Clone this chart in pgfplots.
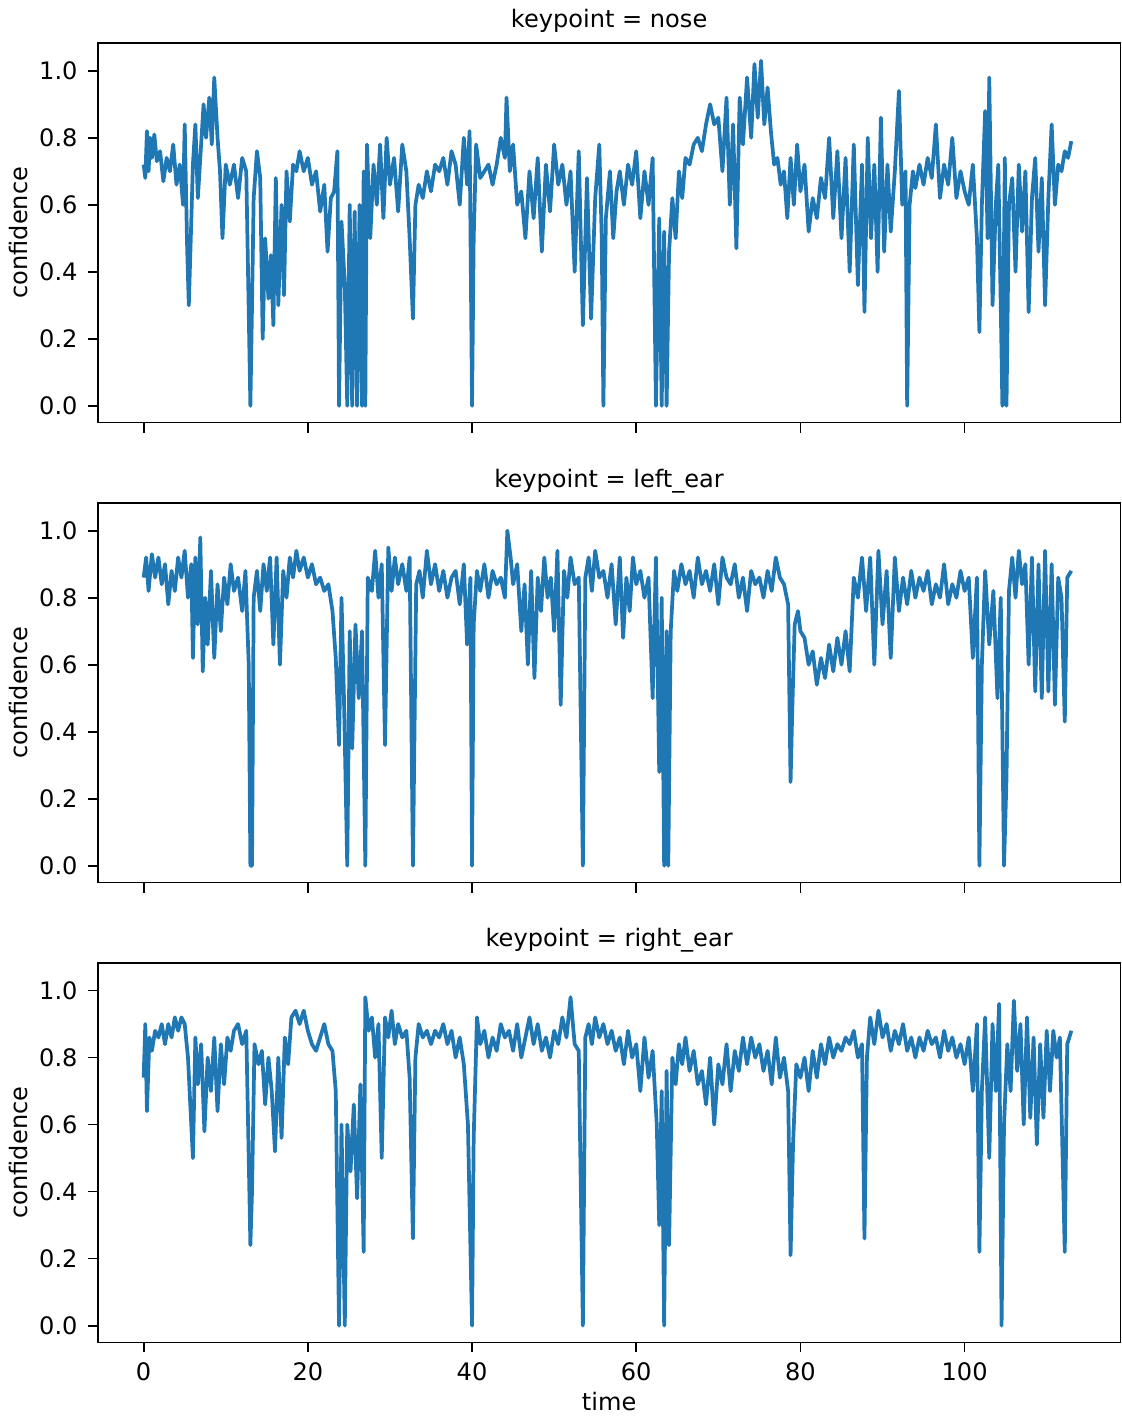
\documentclass[border=0pt]{standalone}
\usepackage{fontspec}
\setmainfont{DejaVu Sans}
\usepackage{pgfplots}
\pgfplotsset{compat=1.18}
\usepgfplotslibrary{groupplots}
\definecolor{mpl}{HTML}{1F77B4}
\begin{document}
\begin{tikzpicture}[font=\fontsize{8.4}{10}\selectfont]
\begin{groupplot}[group style={group size=1 by 3, vertical sep=28pt, x descriptions at=edge bottom},
 width=357pt, height=132.5pt, scale only axis,
 xmin=-5.6, xmax=119, ymin=-0.05, ymax=1.083,
 xtick={0,20,40,60,80,100}, ytick={0,0.2,0.4,0.6,0.8,1.0},
 yticklabel style={/pgf/number format/.cd,fixed,fixed zerofill,precision=1},
 /pgf/number format/assume math mode=true,
 ylabel={confidence}, ylabel style={yshift=-3pt}, xlabel style={yshift=3pt},
 tick align=outside, tick pos=left,
 axis line style={line width=0.6pt}, major tick style={line width=0.6pt, black},
 major tick length=3.5pt,
 cycle list={{mpl, no markers}},
 every axis plot post/.append style={line width=1.3pt, line join=round},
 title style={yshift=-6pt}]
\nextgroupplot[title={keypoint = nose}]
\addplot coordinates {(0,0.72)(0.2,0.68)(0.4,0.82)(0.6,0.70)(0.8,0.80)(1.0,0.74)(1.3,0.81)(1.6,0.73)(2.0,0.76)(2.4,0.67)(2.8,0.74)(3.2,0.70)(3.6,0.78)(4.0,0.66)(4.4,0.72)(4.8,0.60)(5.0,0.84)(5.3,0.47)(5.5,0.30)(5.8,0.55)(6.0,0.72)(6.3,0.84)(6.6,0.62)(7.0,0.78)(7.3,0.90)(7.6,0.80)(8.0,0.92)(8.3,0.78)(8.6,0.98)(9.0,0.80)(9.3,0.70)(9.6,0.50)(10.0,0.72)(10.5,0.66)(11,0.72)(11.5,0.62)(12,0.74)(12.5,0.70)(12.8,0.28)(13.0,0)(13.2,0.30)(13.4,0.62)(13.8,0.76)(14.2,0.68)(14.5,0.20)(14.8,0.50)(15.2,0.32)(15.5,0.45)(15.8,0.24)(16.1,0.68)(16.4,0.30)(16.8,0.60)(17.1,0.33)(17.4,0.70)(17.8,0.55)(18.2,0.72)(18.6,0.70)(19.0,0.76)(19.5,0.70)(20,0.74)(20.5,0.66)(21,0.70)(21.5,0.58)(22,0.66)(22.4,0.46)(22.8,0.62)(23.2,0.64)(23.6,0.76)(23.8,0)(24.1,0.55)(24.5,0.36)(24.8,0)(25.1,0.60)(25.4,0)(25.7,0.58)(26.0,0)(26.3,0.60)(26.6,0)(26.8,0.70)(27.0,0)(27.2,0.78)(27.6,0.50)(28,0.72)(28.4,0.60)(28.8,0.78)(29.2,0.56)(29.6,0.80)(30,0.66)(30.5,0.74)(31,0.58)(31.5,0.78)(32,0.70)(32.4,0.50)(32.8,0.26)(33.1,0.60)(33.5,0.66)(34,0.62)(34.5,0.70)(35,0.64)(35.5,0.72)(36,0.70)(36.5,0.74)(37,0.66)(37.5,0.76)(38,0.72)(38.5,0.60)(39,0.80)(39.4,0.66)(39.7,0.82)(40.0,0)(40.2,0.50)(40.5,0.78)(41,0.68)(41.5,0.70)(42,0.72)(42.5,0.66)(43,0.72)(43.5,0.80)(44,0.74)(44.2,0.92)(44.6,0.70)(45,0.78)(45.5,0.60)(46,0.64)(46.5,0.50)(47,0.70)(47.5,0.56)(48,0.74)(48.5,0.46)(49,0.72)(49.5,0.58)(50,0.78)(50.5,0.66)(51,0.72)(51.5,0.60)(52,0.70)(52.5,0.40)(53,0.76)(53.5,0.24)(54,0.68)(54.5,0.26)(55,0.62)(55.5,0.78)(55.8,0.50)(56.0,0)(56.3,0.56)(56.8,0.70)(57.2,0.50)(57.6,0.64)(58,0.70)(58.5,0.60)(59,0.72)(59.5,0.66)(60,0.76)(60.5,0.56)(61,0.70)(61.5,0.60)(62,0.74)(62.4,0)(62.8,0.56)(63.1,0)(63.4,0.52)(63.7,0)(64,0.46)(64.4,0.62)(64.8,0.50)(65.2,0.70)(65.6,0.62)(66,0.74)(66.5,0.72)(67,0.78)(67.5,0.80)(68,0.76)(68.5,0.84)(69,0.90)(69.5,0.84)(70,0.86)(70.5,0.70)(71,0.92)(71.4,0.60)(71.8,0.84)(72.2,0.47)(72.6,0.92)(73,0.78)(73.5,0.98)(74,0.80)(74.4,1.02)(74.8,0.86)(75.2,1.03)(75.6,0.84)(76,0.95)(76.4,0.82)(76.8,0.72)(77.2,0.74)(77.6,0.66)(78,0.70)(78.4,0.56)(78.8,0.74)(79.2,0.60)(79.6,0.78)(80,0.64)(80.5,0.72)(81,0.52)(81.5,0.62)(82,0.56)(82.5,0.68)(83,0.62)(83.5,0.80)(84,0.56)(84.5,0.76)(85,0.50)(85.5,0.74)(86,0.40)(86.5,0.78)(87,0.36)(87.5,0.72)(87.8,0.28)(88.2,0.80)(88.6,0.50)(89,0.72)(89.4,0.40)(89.8,0.86)(90.2,0.46)(90.6,0.72)(91,0.52)(91.5,0.70)(92,0.94)(92.4,0.60)(92.8,0.70)(93.0,0)(93.3,0.60)(93.7,0.70)(94,0.65)(94.5,0.72)(95,0.66)(95.5,0.74)(96,0.68)(96.5,0.84)(97,0.62)(97.5,0.72)(98,0.66)(98.5,0.80)(99,0.62)(99.5,0.70)(100,0.64)(100.5,0.60)(101,0.72)(101.5,0.50)(101.8,0.22)(102.1,0.60)(102.5,0.88)(102.8,0.50)(103,0.98)(103.4,0.30)(103.8,0.60)(104.1,0.72)(104.4,0.30)(104.6,0)(104.9,0.74)(105.1,0)(105.4,0.60)(105.8,0.68)(106.2,0.40)(106.6,0.72)(107,0.52)(107.4,0.70)(107.8,0.28)(108.2,0.62)(108.6,0.74)(109,0.46)(109.4,0.68)(109.8,0.30)(110.2,0.62)(110.6,0.84)(111,0.60)(111.4,0.72)(111.8,0.70)(112.2,0.76)(112.6,0.74)(113,0.79)};
\nextgroupplot[title={keypoint = left\_ear}]
\addplot coordinates {(0,0.86)(0.3,0.92)(0.6,0.82)(1,0.93)(1.4,0.86)(1.8,0.92)(2.2,0.84)(2.6,0.90)(3,0.78)(3.4,0.88)(3.8,0.82)(4.2,0.92)(4.6,0.86)(5,0.94)(5.4,0.80)(5.8,0.90)(6,0.62)(6.3,0.92)(6.6,0.72)(6.9,0.98)(7.2,0.58)(7.5,0.80)(7.8,0.66)(8.2,0.88)(8.6,0.62)(9,0.84)(9.4,0.70)(9.8,0.86)(10.2,0.78)(10.6,0.90)(11,0.82)(11.5,0.86)(12,0.76)(12.4,0.88)(12.8,0.60)(13,0)(13.2,0)(13.4,0.80)(13.8,0.88)(14.2,0.76)(14.6,0.90)(15,0.82)(15.4,0.92)(15.8,0.66)(16.2,0.92)(16.6,0.60)(17,0.88)(17.4,0.80)(17.8,0.92)(18.2,0.86)(18.6,0.94)(19,0.88)(19.5,0.92)(20,0.86)(20.5,0.90)(21,0.84)(21.5,0.86)(22,0.82)(22.5,0.84)(23,0.76)(23.4,0.62)(23.8,0.36)(24.1,0.80)(24.4,0.50)(24.8,0)(25.1,0.70)(25.4,0.35)(25.8,0.72)(26.2,0.50)(26.6,0.70)(27,0)(27.3,0.86)(27.8,0.82)(28.2,0.94)(28.6,0.80)(29,0.90)(29.4,0.36)(29.8,0.95)(30.2,0.82)(30.6,0.92)(31,0.84)(31.5,0.90)(32,0.82)(32.4,0.92)(32.8,0)(33.2,0.84)(33.6,0.88)(34,0.80)(34.5,0.94)(35,0.84)(35.5,0.90)(36,0.82)(36.5,0.88)(37,0.80)(37.5,0.86)(38,0.88)(38.5,0.78)(39,0.90)(39.4,0.66)(39.8,0.86)(40,0)(40.2,0.72)(40.6,0.88)(41,0.82)(41.5,0.90)(42,0.80)(42.5,0.88)(43,0.84)(43.5,0.86)(44,0.80)(44.3,1.0)(44.7,0.92)(45,0.84)(45.5,0.90)(46,0.70)(46.4,0.84)(46.8,0.60)(47.2,0.88)(47.6,0.56)(48,0.86)(48.4,0.76)(48.8,0.92)(49.2,0.80)(49.6,0.86)(50,0.70)(50.4,0.94)(50.8,0.48)(51.2,0.88)(51.6,0.80)(52,0.92)(52.5,0.84)(53,0.86)(53.5,0)(53.8,0.86)(54.2,0.92)(54.6,0.82)(55,0.94)(55.5,0.86)(56,0.88)(56.5,0.80)(57,0.90)(57.5,0.72)(58,0.92)(58.4,0.68)(58.8,0.86)(59.2,0.76)(59.6,0.92)(60,0.84)(60.5,0.88)(61,0.80)(61.5,0.86)(62,0.50)(62.4,0.92)(62.8,0.28)(63.1,0.80)(63.4,0)(63.7,0.70)(63.9,0)(64.2,0.70)(64.6,0.88)(65,0.82)(65.5,0.90)(66,0.84)(66.5,0.88)(67,0.80)(67.5,0.92)(68,0.84)(68.5,0.88)(69,0.82)(69.5,0.90)(70,0.78)(70.5,0.92)(71,0.86)(71.5,0.84)(72,0.90)(72.5,0.80)(73,0.86)(73.5,0.76)(74,0.88)(74.5,0.84)(75,0.86)(75.5,0.80)(76,0.88)(76.5,0.82)(77,0.92)(77.5,0.86)(78,0.84)(78.5,0.78)(78.8,0.25)(79,0.46)(79.3,0.72)(79.7,0.76)(80,0.70)(80.5,0.68)(81,0.60)(81.5,0.64)(82,0.54)(82.5,0.62)(83,0.56)(83.5,0.66)(84,0.58)(84.5,0.68)(85,0.60)(85.5,0.70)(86,0.58)(86.5,0.86)(87,0.80)(87.5,0.92)(88,0.76)(88.5,0.92)(89,0.60)(89.5,0.94)(90,0.72)(90.5,0.88)(91,0.62)(91.5,0.92)(92,0.76)(92.5,0.86)(93,0.78)(93.5,0.88)(94,0.80)(94.5,0.86)(95,0.82)(95.5,0.88)(96,0.78)(96.5,0.84)(97,0.80)(97.5,0.90)(98,0.78)(98.5,0.84)(99,0.80)(99.5,0.88)(100,0.82)(100.5,0.86)(101,0.62)(101.5,0.86)(101.8,0)(102.1,0.60)(102.5,0.88)(103,0.66)(103.5,0.82)(104,0.50)(104.4,0.80)(104.8,0)(105.1,0.26)(105.4,0.82)(105.8,0.92)(106.2,0.80)(106.6,0.94)(107,0.84)(107.4,0.90)(107.8,0.60)(108.2,0.92)(108.6,0.52)(109,0.90)(109.4,0.50)(109.8,0.94)(110.2,0.52)(110.6,0.90)(111,0.48)(111.4,0.86)(111.8,0.80)(112.2,0.43)(112.5,0.86)(113,0.88)};
\nextgroupplot[title={keypoint = right\_ear}, xlabel={time}]
\addplot coordinates {(0,0.74)(0.2,0.90)(0.4,0.64)(0.7,0.86)(1,0.82)(1.4,0.88)(1.8,0.86)(2.2,0.90)(2.6,0.84)(3,0.90)(3.4,0.86)(3.8,0.92)(4.2,0.88)(4.6,0.92)(5,0.90)(5.4,0.80)(5.8,0.60)(6,0.50)(6.3,0.86)(6.6,0.72)(7,0.84)(7.4,0.58)(7.8,0.80)(8.2,0.70)(8.6,0.86)(9,0.64)(9.4,0.84)(9.8,0.72)(10.2,0.86)(10.6,0.82)(11,0.88)(11.5,0.90)(12,0.84)(12.5,0.88)(12.8,0.50)(13,0.24)(13.2,0.40)(13.5,0.84)(14,0.78)(14.4,0.82)(14.8,0.66)(15.2,0.80)(15.6,0.70)(16,0.52)(16.4,0.80)(16.8,0.56)(17.2,0.86)(17.6,0.78)(18,0.92)(18.5,0.94)(19,0.90)(19.5,0.94)(20,0.88)(20.5,0.84)(21,0.82)(21.5,0.86)(22,0.90)(22.5,0.84)(23,0.82)(23.4,0.70)(23.8,0)(24.1,0.60)(24.5,0)(24.8,0.60)(25.2,0.46)(25.6,0.66)(26,0.38)(26.4,0.72)(26.8,0.22)(27,0.98)(27.4,0.88)(27.8,0.92)(28.2,0.80)(28.6,0.90)(29,0.50)(29.4,0.92)(29.8,0.86)(30.2,0.94)(30.6,0.84)(31,0.90)(31.5,0.86)(32,0.88)(32.4,0.74)(32.8,0.26)(33.1,0.80)(33.5,0.90)(34,0.86)(34.5,0.88)(35,0.84)(35.5,0.88)(36,0.86)(36.5,0.90)(37,0.84)(37.5,0.88)(38,0.80)(38.5,0.86)(39,0.78)(39.5,0.60)(40,0)(40.2,0.56)(40.6,0.92)(41,0.84)(41.5,0.88)(42,0.80)(42.5,0.86)(43,0.82)(43.5,0.90)(44,0.86)(44.5,0.88)(45,0.82)(45.5,0.90)(46,0.80)(46.5,0.86)(47,0.92)(47.5,0.84)(48,0.90)(48.5,0.82)(49,0.86)(49.5,0.80)(50,0.88)(50.5,0.84)(51,0.92)(51.5,0.86)(52,0.98)(52.5,0.84)(53,0.82)(53.5,0)(53.8,0.86)(54.2,0.90)(54.6,0.84)(55,0.92)(55.5,0.86)(56,0.90)(56.5,0.84)(57,0.88)(57.5,0.82)(58,0.86)(58.5,0.78)(59,0.88)(59.5,0.80)(60,0.84)(60.5,0.70)(61,0.86)(61.5,0.74)(62,0.82)(62.5,0.60)(62.8,0.30)(63.1,0.70)(63.4,0)(63.7,0.76)(64,0.24)(64.4,0.80)(64.8,0.72)(65.2,0.84)(65.6,0.78)(66,0.86)(66.5,0.76)(67,0.82)(67.5,0.72)(68,0.76)(68.5,0.66)(69,0.80)(69.5,0.60)(70,0.78)(70.5,0.72)(71,0.84)(71.5,0.70)(72,0.82)(72.5,0.76)(73,0.86)(73.5,0.78)(74,0.86)(74.5,0.80)(75,0.84)(75.5,0.76)(76,0.82)(76.5,0.72)(77,0.86)(77.5,0.74)(78,0.80)(78.5,0.70)(78.8,0.21)(79.1,0.54)(79.5,0.78)(80,0.74)(80.5,0.80)(81,0.70)(81.5,0.82)(82,0.74)(82.5,0.84)(83,0.78)(83.5,0.86)(84,0.80)(84.5,0.84)(85,0.82)(85.5,0.86)(86,0.84)(86.5,0.88)(87,0.80)(87.5,0.84)(87.8,0.26)(88.1,0.80)(88.5,0.92)(89,0.84)(89.5,0.94)(90,0.86)(90.5,0.90)(91,0.82)(91.5,0.88)(92,0.84)(92.5,0.90)(93,0.82)(93.5,0.86)(94,0.80)(94.5,0.86)(95,0.82)(95.5,0.88)(96,0.84)(96.5,0.86)(97,0.80)(97.5,0.88)(98,0.82)(98.5,0.86)(99,0.80)(99.5,0.84)(100,0.78)(100.5,0.86)(101,0.70)(101.5,0.90)(101.8,0.22)(102.1,0.70)(102.5,0.92)(103,0.50)(103.4,0.90)(103.8,0.70)(104.2,0.96)(104.5,0)(104.8,0.60)(105.2,0.84)(105.6,0.70)(106,0.97)(106.4,0.76)(106.8,0.90)(107.2,0.60)(107.6,0.92)(108,0.62)(108.4,0.86)(108.8,0.54)(109.2,0.84)(109.6,0.62)(110,0.88)(110.4,0.70)(110.8,0.88)(111.2,0.80)(111.6,0.86)(112.2,0.22)(112.5,0.84)(113,0.88)};
\end{groupplot}
\end{tikzpicture}
\end{document}
